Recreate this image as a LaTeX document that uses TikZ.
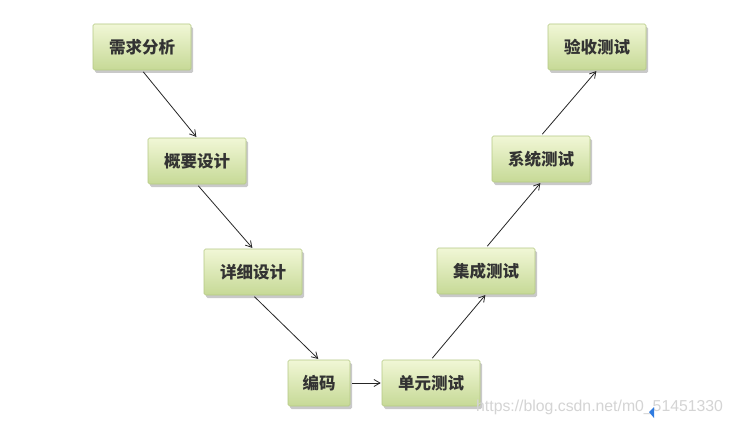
\documentclass[tikz,border=0pt]{standalone}
\usepackage{fontspec}
\newfontfamily\cjk{Noto Sans CJK SC}
\setsansfont{Liberation Sans}
\usetikzlibrary{arrows.meta,shadows}
\definecolor{boxtop}{HTML}{F1F7D6}
\definecolor{boxbot}{HTML}{C6D996}
\definecolor{boxedge}{HTML}{B5C984}
\definecolor{wm}{HTML}{D4D4D4}
\definecolor{cursor}{HTML}{2F7BE0}
\begin{document}
\begin{tikzpicture}[x=1pt,y=-1pt,
  stage/.style={rectangle, rounded corners=1.5pt, minimum width=98pt, minimum height=46pt,
    top color=boxtop, bottom color=boxbot, draw=boxedge, line width=0.6pt,
    drop shadow={shadow xshift=2pt, shadow yshift=-3pt, opacity=0.35, fill=black!60},
    font=\cjk\bfseries\fontsize{16.5}{16.5}\selectfont, text=black!80, inner sep=0pt},
  link/.style={-{Straight Barb[length=6pt,width=7pt]}, line width=0.8pt, black!85, shorten <=2pt, shorten >=1pt}]
\useasboundingbox (0,0) rectangle (733,425);
\fill[white] (0,0) rectangle (733,425);
\node[stage] (a) at (142,47) {需求分析};
\node[stage] (b) at (197,161) {概要设计};
\node[stage] (c) at (253,272) {详细设计};
\node[stage, minimum width=62pt] (d) at (319,383) {编码};
\node[stage] (e) at (431,383) {单元测试};
\node[stage] (f) at (486,271) {集成测试};
\node[stage] (g) at (541,159) {系统测试};
\node[stage] (h) at (597,47) {验收测试};
\draw[link] (a.south) -- (b.north);
\draw[link] (b.south) -- (c.north);
\draw[link] (c.south) -- (d.north);
\draw[link] (d.east) -- (e.west);
\draw[link] (e.north) -- (f.south);
\draw[link] (f.north) -- (g.south);
\draw[link] (g.north) -- (h.south);
\node[anchor=west, text=wm, font=\sffamily\fontsize{15.8}{15.8}\selectfont, inner sep=0pt] (w) at (476,407) {https://blog.csdn.net/m0\_51451330};
\coordinate (cur) at (649,412);
\fill[cursor] (cur) -- ++(5,-5) -- ++(0,11) -- cycle;
\end{tikzpicture}
\end{document}
